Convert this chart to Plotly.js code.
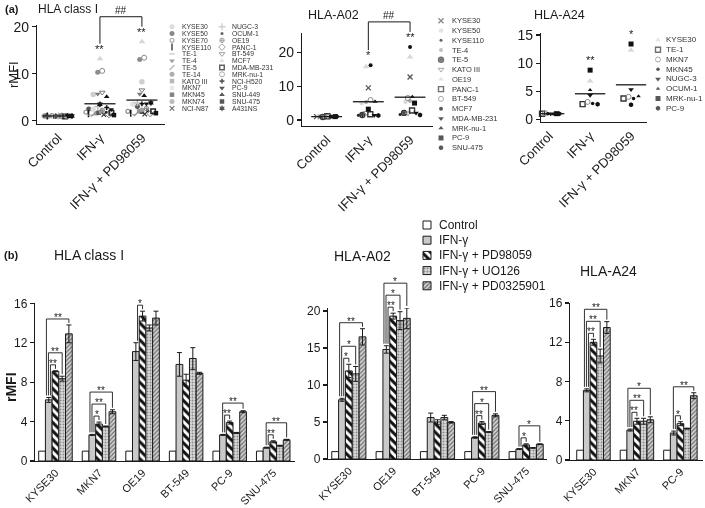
<!DOCTYPE html>
<html><head><meta charset="utf-8">
<script src="https://cdn.plot.ly/plotly-3.0.1.min.js"></script>
<style>html,body{margin:0;padding:0;background:#fff}#chart{width:705px;height:508px;filter:grayscale(100%)}</style>
</head><body><div id="chart"></div>
<script>
// ================= DATA =================
const dotConditions = ['Control', 'IFN-γ', 'IFN-γ + PD98059'];

const classI_lines = ['KYSE30','KYSE50','KYSE70','KYSE110','TE-1','TE-4','TE-5','TE-14','KATO III','MKN7','MKN45','MKN74','NCI-N87',
                      'NUGC-3','OCUM-1','OE19','PANC-1','BT-549','MCF7','MDA-MB-231','MRK-nu-1','NCI-H520','PC-9','SNU-449','SNU-475','A431NS'];
const classI_ctrl = [1.0,1.0,1.1,1.0,0.9,1.0,1.0,1.1,1.0,1.0,0.9,1.0,1.0,1.0,1.1,1.0,1.0,1.0,1.0,0.9,1.0,1.1,1.0,1.0,1.0,1.0];
const classI_ifn  = [5.6,2.5,1.8,1.5,1.2,5.7,1.4,10.3,1.6,2.4,1.7,1.9,1.3,3.0,1.8,2.2,1.3,6.0,13.2,1.7,10.6,2.8,2.4,5.1,1.2,3.5];
const classI_pd   = [8.3,3.0,2.0,1.6,1.3,5.7,1.5,13.0,2.0,3.5,1.9,2.3,1.4,3.8,2.1,2.6,1.5,6.5,16.8,2.0,13.4,3.6,3.6,5.3,1.6,3.8];
const classI_sig  = ['', '**', '**'];
const classI_hash = '##';

const a02_lines = ['KYSE30','KYSE50','KYSE110','TE-4','TE-5','KATO III','OE19','PANC-1','BT-549','MCF7','MDA-MB-231','MRK-nu-1','PC-9','SNU-475'];
const a02_ctrl  = [1.0,1.1,1.0,1.0,0.9,1.0,1.0,1.1,1.0,1.0,1.0,0.9,1.0,1.0];
const a02_ifn   = [9.5,5.0,1.4,5.3,1.5,2.1,15.7,1.7,5.9,16.2,1.4,5.4,3.2,1.3];
const a02_pd    = [12.7,5.4,1.6,5.6,2.1,2.0,18.6,2.8,6.5,21.6,2.1,6.8,5.0,1.5];
const a02_sig   = ['', '*', '**'];
const a02_hash  = '##';

const a24_lines = ['KYSE30','TE-1','MKN7','MKN45','NUGC-3','OCUM-1','MRK-nu-1','PC-9'];
const a24_ctrl  = [1.0,1.0,1.1,1.0,1.0,0.9,1.0,1.0];
const a24_ifn   = [6.8,2.7,3.1,2.8,4.3,5.2,8.75,2.7];
const a24_pd    = [12.3,3.7,4.0,3.7,5.3,4.1,13.4,2.6];
const a24_sig   = ['', '**', '*'];
const a24_hash  = '';

const barConditions = ['Control','IFN-γ','IFN-γ + PD98059','IFN-γ + UO126','IFN-γ + PD0325901'];

const bI_groups = ['KYSE30','MKN7','OE19','BT-549','PC-9','SNU-475'];
const bI_ctrl  = [1.0,1.0,1.0,1.0,1.0,1.0];
const bI_ifn   = [6.2,2.65,11.1,9.8,2.65,1.35];
const bI_pd    = [9.1,3.75,14.7,8.2,3.9,1.95];
const bI_uo    = [8.35,3.5,13.5,10.4,2.85,1.55];
const bI_pd03  = [12.9,5.0,14.5,8.9,5.0,2.15];
const bI_ifnErr  = [0.25,0.05,0.9,1.2,0.05,0.05];
const bI_pdErr   = [0.05,0.2,0.5,0.6,0.15,0.1];
const bI_uoErr   = [0.25,0.05,0.3,1.1,0.05,0.05];
const bI_pd03Err = [0.9,0.2,0.7,0.1,0.1,0.05];
const bI_sigGroup = [0,0,0,1,1,1,2,4,4,5,5];
const bI_sigTo    = [2,3,4,2,3,4,2,2,4,2,4];
const bI_sigLabel = ['**','**','**','*','**','**','*','**','**','**','**'];

const bA02_groups = ['KYSE30','OE19','BT-549','PC-9','SNU-475'];
const bA02_ctrl  = [1.0,1.0,1.0,1.0,1.0];
const bA02_ifn   = [8.0,14.8,5.6,2.9,1.35];
const bA02_pd    = [11.9,19.3,5.0,4.85,1.9];
const bA02_uo    = [11.5,18.7,5.6,3.65,1.5];
const bA02_pd03  = [16.5,19.0,4.95,5.9,2.0];
const bA02_ifnErr  = [0.2,0.5,0.6,0.1,0.05];
const bA02_pdErr   = [0.9,0.4,0.3,0.2,0.15];
const bA02_uoErr   = [1.0,1.2,0.3,0.05,0.05];
const bA02_pd03Err = [1.1,1.4,0.1,0.2,0.05];
const bA02_sigGroup = [0,0,0,1,1,1,3,3,3,4,4];
const bA02_sigTo    = [2,3,4,2,3,4,2,3,4,2,4];
const bA02_sigLabel = ['*','*','**','**','*','*','**','*','**','*','*'];

const bA24_groups = ['KYSE30','MKN7','PC-9'];
const bA24_ctrl  = [1.0,1.0,1.0];
const bA24_ifn   = [7.1,3.05,2.75];
const bA24_pd    = [12.0,3.95,3.7];
const bA24_uo    = [10.6,3.95,3.2];
const bA24_pd03  = [13.5,4.1,6.55];
const bA24_ifnErr  = [0.15,0.1,0.2];
const bA24_pdErr   = [0.3,0.3,0.2];
const bA24_uoErr   = [0.7,0.3,0.05];
const bA24_pd03Err = [0.6,0.3,0.3];
const bA24_sigGroup = [0,0,0,1,1,1,2,2];
const bA24_sigTo    = [2,3,4,2,3,4,2,4];
const bA24_sigLabel = ['**','**','**','**','**','*','*','**'];

// ================= STYLE / LAYOUT =================
const W = 705, H = 508;
const FONT = 'Liberation Sans, Arial, Helvetica, sans-serif';
const INK = '#1a1a1a';

const boxes = {
  a1: {x0:37,  x1:165, y0:25,  y1:124, xr:[-0.5,2.55],  yr:[-0.7,20.36], xa:'x',  ya:'y'},
  a2: {x0:302, x1:433, y0:33,  y1:126, xr:[-0.59,2.55], yr:[-1.77,25.7], xa:'x2', ya:'y2'},
  a3: {x0:541, x1:647, y0:33,  y1:122, xr:[-0.2,2.39],  yr:[-0.48,15.36],xa:'x3', ya:'y3'},
  b1: {x0:35,  x1:295, y0:303, y1:461, xr:[-0.47,5.5],  yr:[0,16.03],    xa:'x4', ya:'y4'},
  b2: {x0:328, x1:547, y0:308, y1:459, xr:[-0.47,4.47], yr:[0,20.4],     xa:'x5', ya:'y5'},
  b3: {x0:570, x1:703, y0:303, y1:460, xr:[-0.54,2.52], yr:[0,16],       xa:'x6', ya:'y6'}
};
function toPx(b, xv, yv) {
  return [b.x0 + (xv - b.xr[0]) / (b.xr[1] - b.xr[0]) * (b.x1 - b.x0),
          b.y1 - (yv - b.yr[0]) / (b.yr[1] - b.yr[0]) * (b.y1 - b.y0)];
}
const pxPerY = b => (b.y1 - b.y0) / (b.yr[1] - b.yr[0]);
const pxPerX = b => (b.x1 - b.x0) / (b.xr[1] - b.xr[0]);
const PX = x => x / W, PY = y => 1 - y / H;

const layout = {
  width: W, height: H, margin: {l:0, r:0, t:0, b:0},
  paper_bgcolor: '#ffffff', plot_bgcolor: 'rgba(0,0,0,0)',
  font: {family: FONT, color: INK, size: 12},
  showlegend: false, barmode: 'group', bargap: 0.23, bargroupgap: 0,
  annotations: [], shapes: []
};
const traces = [];

function axName(ref, letter) { return letter + 'axis' + (ref.length > 1 ? ref.slice(1) : ''); }
function setAxes(b, yTicks, xLabels, fx, fy) {
  layout[axName(b.xa, 'x')] = {
    domain: [b.x0 / W, b.x1 / W], range: b.xr, anchor: b.ya,
    showline: true, linecolor: INK, linewidth: 1.2, ticks: '',
    tickmode: 'array', tickvals: xLabels.map((_, i) => i), ticktext: xLabels,
    tickangle: -45, tickfont: {size: fx, family: FONT, color: INK},
    showgrid: false, zeroline: false, fixedrange: true
  };
  layout[axName(b.ya, 'y')] = {
    domain: [1 - b.y1 / H, 1 - b.y0 / H], range: b.yr, anchor: b.xa,
    showline: true, linecolor: INK, linewidth: 1.2,
    ticks: 'outside', ticklen: 4, tickwidth: 1.2, tickcolor: INK,
    tickmode: 'array', tickvals: yTicks, tickfont: {size: fy, family: FONT, color: INK},
    showgrid: false, zeroline: false, fixedrange: true
  };
}
function ann(x, y, text, o) {
  layout.annotations.push(Object.assign({
    xref: 'paper', yref: 'paper', x: PX(x), y: PY(y), text: text, showarrow: false,
    xanchor: 'center', yanchor: 'middle', font: {size: 12, family: FONT, color: INK}
  }, o || {}));
}
function pathShape(pts, width) {
  const d = pts.map((p, i) => (i ? 'L' : 'M') + PX(p[0]).toFixed(5) + ',' + PY(p[1]).toFixed(5)).join(' ');
  layout.shapes.push({type: 'path', xref: 'paper', yref: 'paper', path: d, line: {color: INK, width: width || 1}});
}

// marker styles per cell line (legend order)
const classI_style = [
  {s:'circle', c:'#cfcfcf', z:5.5}, {s:'circle', c:'#555555', z:5}, {s:'circle-open', c:'#8a8a8a', z:4, w:1.2},
  {s:'line-ns', c:'#111111', z:5, w:1.6}, {s:'line-ew', c:'#aaaaaa', z:4, w:1.2}, {s:'triangle-down', c:'#777777', z:5},
  {s:'line-ne', c:'#9a9a9a', z:5, w:1.4}, {s:'circle', c:'#8c8c8c', z:5}, {s:'square', c:'#9a9a9a', z:4.5},
  {s:'circle', c:'#e0e0e0', z:5.5}, {s:'square', c:'#505050', z:4.5}, {s:'circle', c:'#a0a0a0', z:5},
  {s:'x-thin-open', c:'#333333', z:4.5, w:1.2}, {s:'cross-thin-open', c:'#bbbbbb', z:5, w:1.4}, {s:'circle', c:'#222222', z:3},
  {s:'circle-cross-open', c:'#888888', z:4.5, w:1}, {s:'diamond-open', c:'#777777', z:5, w:1}, {s:'triangle-down-open', c:'#777777', z:5, w:1},
  {s:'triangle-up', c:'#d6d6d6', z:6}, {s:'square-open', c:'#222222', z:4.5, w:1.5}, {s:'circle-open', c:'#888888', z:5, w:1},
  {s:'cross', c:'#111111', z:4}, {s:'triangle-down', c:'#111111', z:5}, {s:'triangle-up', c:'#111111', z:5},
  {s:'square', c:'#111111', z:4.5}, {s:'hexagram', c:'#111111', z:5}
];
const a02_style = [
  {s:'x-thin-open', c:'#555555', z:5, w:1.3}, {s:'circle', c:'#d8d8d8', z:4.5}, {s:'circle', c:'#222222', z:3},
  {s:'circle', c:'#a6a6a6', z:4}, {s:'circle-cross-open', c:'#333333', z:5, w:1.4}, {s:'triangle-down-open', c:'#888888', z:5, w:1},
  {s:'triangle-up', c:'#d8d8d8', z:6}, {s:'square-open', c:'#333333', z:5, w:1.4}, {s:'circle-open', c:'#888888', z:5, w:1},
  {s:'circle', c:'#111111', z:4}, {s:'triangle-down', c:'#111111', z:5}, {s:'triangle-up', c:'#111111', z:4.5},
  {s:'square', c:'#111111', z:5}, {s:'hexagon', c:'#111111', z:5}
];
const a24_style = [
  {s:'triangle-up', c:'#d8d8d8', z:6}, {s:'square-open', c:'#333333', z:5, w:1.4}, {s:'circle-open', c:'#888888', z:5, w:1},
  {s:'circle', c:'#111111', z:3.5}, {s:'triangle-down', c:'#111111', z:5}, {s:'triangle-up', c:'#111111', z:4},
  {s:'square', c:'#111111', z:5}, {s:'hexagon', c:'#111111', z:5}
];
function markerOf(st) {
  return {symbol: st.s, color: st.c, size: st.z, line: {color: st.c, width: st.w || 0}};
}

// simple beeswarm: rows of points with similar values spread horizontally
function swarm(vals, b, maxHalfPx, dotPx) {
  const pu = pxPerY(b), pc = pxPerX(b);
  const order = vals.map((v, i) => i).sort((a, c) => vals[a] - vals[c] || a - c);
  const off = new Array(vals.length).fill(0);
  let row = [], start = null;
  const flush = () => {
    const n = row.length;
    if (!n) return;
    row.sort((a, c) => a - c);
    const sp = n > 1 ? Math.min(dotPx, 2 * maxHalfPx / (n - 1)) : 0;
    row.forEach((i, k) => { off[i] = (k - (n - 1) / 2) * sp / pc; });
    row = [];
  };
  order.forEach(i => {
    if (start === null || (vals[i] - start) * pu > dotPx) { flush(); start = vals[i]; }
    row.push(i);
  });
  flush();
  return off;
}

function dotPanel(b, lines, cols, styles, sig, hash, halfPx, dotPx, yTicks, tickY) {
  setAxes(b, yTicks, dotConditions, 13, tickY);
  const offs = cols.map(v => swarm(v, b, halfPx, dotPx));
  lines.forEach((name, i) => {
    traces.push({
      type: 'scatter', mode: 'markers', name: name, xaxis: b.xa, yaxis: b.ya,
      x: cols.map((v, c) => c + offs[c][i]), y: cols.map(v => v[i]),
      marker: markerOf(styles[i]), cliponaxis: false, hoverinfo: 'skip'
    });
  });
  // mean lines
  const mx = [], my = [];
  cols.forEach((v, c) => {
    const m = v.reduce((s, a) => s + a, 0) / v.length;
    mx.push(c - 0.37, c + 0.37, null); my.push(m, m, null);
  });
  traces.push({type: 'scatter', mode: 'lines', xaxis: b.xa, yaxis: b.ya, x: mx, y: my,
               line: {color: INK, width: 1.3}, hoverinfo: 'skip', cliponaxis: false});
  // significance marks above columns
  const labY = [];
  cols.forEach((v, c) => {
    const top = toPx(b, c, Math.max.apply(null, v));
    labY.push(top[1] - 10);
    if (sig[c]) ann(top[0], top[1] - 10, sig[c], {font: {size: 11, family: FONT, color: INK}});
  });
  if (hash) {
    const xl = toPx(b, 1, 0)[0], xr = toPx(b, 2, 0)[0];
    const yTop = Math.min(labY[1], labY[2]) - 15;
    pathShape([[xl, labY[1] - 5], [xl, yTop], [xr, yTop], [xr, labY[2] - 5]], 1);
    ann((xl + xr) / 2, yTop - 6, hash, {font: {size: 10, family: FONT, color: INK}});
  }
}

dotPanel(boxes.a1, classI_lines, [classI_ctrl, classI_ifn, classI_pd], classI_style, classI_sig, classI_hash, 14, 4.5, [0,10,20], 14);
dotPanel(boxes.a2, a02_lines, [a02_ctrl, a02_ifn, a02_pd], a02_style, a02_sig, a02_hash, 10, 4.5, [0,10,20], 14);
dotPanel(boxes.a3, a24_lines, [a24_ctrl, a24_ifn, a24_pd], a24_style, a24_sig, a24_hash, 10, 5, [0,5,10,15], 14);

// ---- overlay axis (pixel space) for legend keys ----
layout.xaxis7 = {domain: [0, 1], range: [0, W], anchor: 'y7', visible: false, fixedrange: true};
layout.yaxis7 = {domain: [0, 1], range: [H, 0], anchor: 'x7', visible: false, fixedrange: true};

function dotLegend(names, styles, cols, fontSize) {
  const xs = [], ys = [], sy = [], co = [], sz = [], lw = [];
  names.forEach((n, i) => {
    const col = cols.find(c => i >= c.from && i < c.from + c.n);
    const k = i - col.from;
    const y = col.y0 + k * col.dy;
    xs.push(col.mx); ys.push(y);
    sy.push(styles[i].s); co.push(styles[i].c); sz.push(Math.min(styles[i].z, 5)); lw.push(styles[i].w || 0);
    ann(col.tx, y, n, {xanchor: 'left', font: {size: fontSize, family: FONT, color: '#333'}});
  });
  traces.push({type: 'scatter', mode: 'markers', xaxis: 'x7', yaxis: 'y7', x: xs, y: ys,
               marker: {symbol: sy, color: co, size: sz, line: {color: co, width: lw}}, hoverinfo: 'skip', cliponaxis: false});
}
dotLegend(classI_lines, classI_style, [{from: 0, n: 13, mx: 172, tx: 180, y0: 26.7, dy: 6.8},
                                      {from: 13, n: 13, mx: 222, tx: 230, y0: 26.7, dy: 6.8}], 6.8);
dotLegend(a02_lines, a02_style, [{from: 0, n: 14, mx: 441, tx: 450, y0: 20.7, dy: 9.77}], 7.5);
dotLegend(a24_lines, a24_style, [{from: 0, n: 8, mx: 658, tx: 664, y0: 40, dy: 9.75}], 8);

// ---- panel (b) bars ----
const condStyle = [
  {color: '#ffffff'},
  {color: '#c9c9c9'},
  {color: '#ffffff', pattern: {shape: '\\', fgcolor: '#111111', bgcolor: '#ffffff', size: 6, solidity: 0.5, fillmode: 'replace'}},
  {color: '#d6d6d6', pattern: {shape: '.', fgcolor: '#8a8a8a', bgcolor: '#dadada', size: 3, solidity: 0.35, fillmode: 'replace'}},
  {color: '#c4c4c4', pattern: {shape: '/', fgcolor: '#6e6e6e', bgcolor: '#d2d2d2', size: 3, solidity: 0.4, fillmode: 'replace'}}
];
function barMarker(k) {
  const m = {color: condStyle[k].color, line: {color: INK, width: 1}};
  if (condStyle[k].pattern) m.pattern = condStyle[k].pattern;
  return m;
}

function barPanel(b, groups, vals, errs, sg, st, sl, yTicks) {
  setAxes(b, yTicks, groups, 11, 12);
  vals.forEach((v, k) => {
    traces.push({
      type: 'bar', name: barConditions[k], xaxis: b.xa, yaxis: b.ya,
      x: groups.map((_, i) => i), y: v, marker: barMarker(k),
      error_y: errs[k] ? {type: 'data', array: errs[k], visible: true, color: INK, thickness: 1, width: 2.5}
                       : {visible: false},
      hoverinfo: 'skip'
    });
  });
  // brackets
  const w = (1 - layout.bargap) / vals.length;
  const topPx = (g, k) => toPx(b, 0, vals[k][g] + (errs[k] ? errs[k][g] : 0))[1];
  const byGroup = {};
  sg.forEach((g, i) => { (byGroup[g] = byGroup[g] || []).push(i); });
  Object.keys(byGroup).forEach(key => {
    const g = +key;
    const list = byGroup[g].sort((a, c) => st[a] - st[c]);
    let prev = Infinity;
    list.forEach((i, r) => {
      const t = st[i];
      let base = Infinity;
      for (let k = 1; k <= t; k++) base = Math.min(base, topPx(g, k));
      const y = Math.min(base - 6, prev - 12);
      prev = y;
      const xl = toPx(b, g + (1 - 2) * w + w * (0.25 - 0.3 * r), 0)[0];
      const xr = toPx(b, g + (t - 2) * w, 0)[0];
      pathShape([[xl, topPx(g, 1) - 2], [xl, y], [xr, y], [xr, topPx(g, t) - 2]], 0.9);
      ann((xl + xr) / 2, y - 1.5, sl[i], {font: {size: 10, family: FONT, color: INK}});
    });
  });
}

barPanel(boxes.b1, bI_groups, [bI_ctrl, bI_ifn, bI_pd, bI_uo, bI_pd03],
         [null, bI_ifnErr, bI_pdErr, bI_uoErr, bI_pd03Err], bI_sigGroup, bI_sigTo, bI_sigLabel, [0,4,8,12,16]);
barPanel(boxes.b2, bA02_groups, [bA02_ctrl, bA02_ifn, bA02_pd, bA02_uo, bA02_pd03],
         [null, bA02_ifnErr, bA02_pdErr, bA02_uoErr, bA02_pd03Err], bA02_sigGroup, bA02_sigTo, bA02_sigLabel, [0,5,10,15,20]);
barPanel(boxes.b3, bA24_groups, [bA24_ctrl, bA24_ifn, bA24_pd, bA24_uo, bA24_pd03],
         [null, bA24_ifnErr, bA24_pdErr, bA24_uoErr, bA24_pd03Err], bA24_sigGroup, bA24_sigTo, bA24_sigLabel, [0,4,8,12,16]);

// bar legend (swatches drawn as bars in pixel-space overlay)
const legX = 427, legY0 = 225, legDy = 15.2, sw = 8;
barConditions.forEach((name, k) => {
  const yc = legY0 + k * legDy;
  traces.push({type: 'bar', xaxis: 'x7', yaxis: 'y7', x: [legX], y: [sw], base: [yc - sw / 2],
               width: [sw], offset: [-sw / 2], marker: barMarker(k), hoverinfo: 'skip'});
  ann(legX + 10, yc, name, {xanchor: 'left', font: {size: 12, family: FONT, color: INK}});
});

// titles and labels
ann(3, 9, '<b>(a)</b>', {xanchor: 'left', font: {size: 11, family: FONT, color: INK}});
ann(68, 9, 'HLA class I', {font: {size: 12, family: FONT, color: INK}});
ann(333, 15, 'HLA-A02', {font: {size: 12.5, family: FONT, color: INK}});
ann(559, 15, 'HLA-A24', {font: {size: 12.5, family: FONT, color: INK}});
ann(14, 75, 'rMFI', {textangle: -90, font: {size: 13, family: FONT, color: INK}});
ann(2, 255, '<b>(b)</b>', {xanchor: 'left', font: {size: 11, family: FONT, color: INK}});
ann(89.5, 255, 'HLA class I', {font: {size: 14, family: FONT, color: INK}});
ann(362.5, 256, 'HLA-A02', {font: {size: 14, family: FONT, color: INK}});
ann(608.5, 271, 'HLA-A24', {font: {size: 14, family: FONT, color: INK}});
ann(11, 387, '<b>rMFI</b>', {textangle: -90, font: {size: 14, family: FONT, color: INK}});

Plotly.newPlot('chart', traces, layout, {displayModeBar: false, staticPlot: true});
</script>
</body></html>
